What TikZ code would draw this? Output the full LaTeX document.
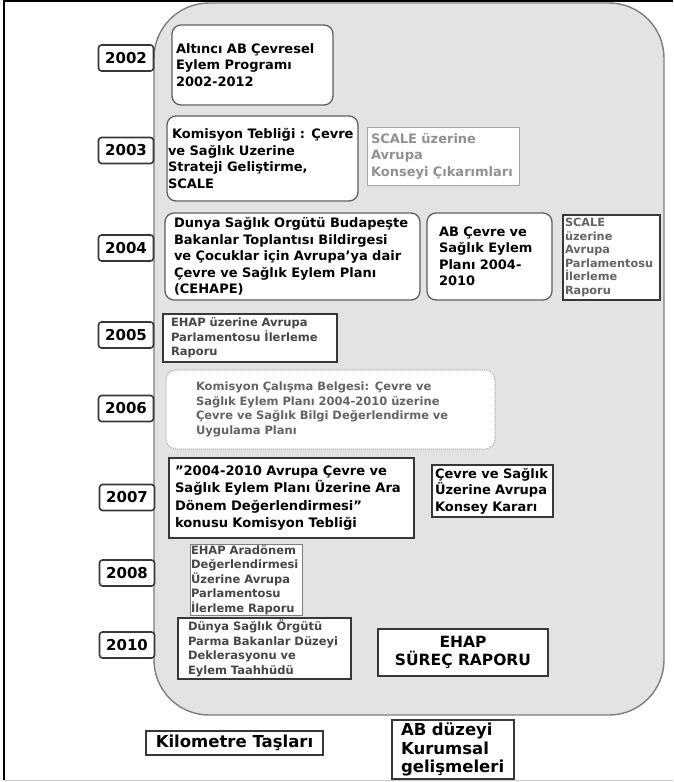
\documentclass[tikz,border=0pt]{standalone}
\usepackage{fontspec}
\setmainfont{DejaVu Sans}
\usepackage{xcolor}
\usepackage{tikz}
\usetikzlibrary{positioning}
\definecolor{panelfill}{RGB}{227, 227, 227}
\definecolor{panelline}{RGB}{125, 125, 125}
\definecolor{boxline}{RGB}{95, 95, 95}
\definecolor{rectline}{RGB}{55, 55, 55}
\definecolor{softline}{RGB}{165, 165, 165}
\definecolor{softtext}{RGB}{145, 145, 145}
\definecolor{midtext}{RGB}{100, 100, 100}
\definecolor{darktext}{RGB}{70, 70, 70}
\tikzstyle{panel} = [rectangle, rounded corners=55pt, draw=panelline, fill=panelfill, line width=1.4pt]
\tikzstyle{year} = [rectangle, rounded corners=3pt, draw=rectline, line width=1.6pt, fill=white, minimum width=55pt, minimum height=26pt, inner sep=0pt, font=\fontsize{15}{18}\selectfont\bfseries]
\tikzstyle{event} = [rectangle, rounded corners=9pt, draw=boxline, line width=1.3pt, fill=white, align=left, inner ysep=2pt, font=\fontsize{13}{16.5}\selectfont\bfseries]
\tikzstyle{report} = [rectangle, draw=rectline, line width=1.6pt, fill=white, align=left, inner ysep=2pt, font=\fontsize{13}{16.5}\selectfont\bfseries]
\tikzstyle{note} = [rectangle, draw=rectline, line width=1.4pt, fill=white, align=left, inner ysep=1pt, text=darktext, font=\fontsize{11.5}{14.5}\selectfont\bfseries]
\tikzstyle{legend} = [rectangle, draw=rectline, line width=1.6pt, fill=white, align=left, font=\fontsize{16.5}{18.5}\selectfont\bfseries]

\begin{document}
\begin{tikzpicture}[x=1pt, y=-1pt]
    \useasboundingbox (0, 0) rectangle (673, 782);
    % Frame
    \draw[black, line width=1.5pt] (673, 1) -- (4, 1) -- (4, 780);
    \draw[gray!40, line width=1pt] (4, 780) -- (673, 780);

    % Panel
    \node[panel, minimum width=510pt, minimum height=712pt] (panel) at (409, 359) {};

    % Years
    \node[year] (y2002) at (126, 58) {2002};
    \node[year] (y2003) at (126, 150.5) {2003};
    \node[year] (y2004) at (126, 248) {2004};
    \node[year] (y2005) at (126, 335) {2005};
    \node[year] (y2006) at (126, 408.5) {2006};
    \node[year] (y2007) at (127, 497.5) {2007};
    \node[year] (y2008) at (127, 573) {2008};
    \node[year] (y2010) at (127, 645) {2010};

    % Milestones and institutional steps
    \node[event, minimum width=161pt, minimum height=80pt, inner xsep=4pt, text width=153pt] (programme) at (252.5, 65) {Altıncı AB Çevresel\\Eylem Programı\\2002-2012\\[6pt]};
    \node[event, minimum width=191pt, minimum height=85pt, inner xsep=1pt, text width=189pt] (strategy) at (262.5, 158.5) {\hspace*{4pt}Komisyon Tebliği : Çevre\\ve Sağlık Uzerine\\Strateji Geliştirme,\\SCALE};
    \node[report, draw=softline, line width=1pt, text=softtext, minimum width=152pt, minimum height=58pt, inner xsep=4pt, text width=144pt] (council) at (443, 156) {SCALE üzerine\\Avrupa\\Konseyi Çıkarımları};
    \node[event, minimum width=255pt, minimum height=87pt, inner xsep=9pt, text width=237pt] (cehape) at (292.5, 256.5) {Dunya Sağlık Orgütü Budapeşte\\Bakanlar Toplantısı Bildirgesi\\ve Çocuklar için Avrupa'ya dair\\Çevre ve Sağlık Eylem Planı\\(CEHAPE)};
    \node[event, minimum width=125pt, minimum height=87pt, inner xsep=12pt, text width=101pt] (plan) at (489.5, 256.5) {AB Çevre ve\\Sağlık Eylem\\Planı 2004-\\2010};
    \node[note, text=midtext, minimum width=97pt, minimum height=85pt, inner xsep=2pt, text width=93pt, font=\fontsize{11.3}{13.6}\selectfont\bfseries] (scaleep) at (611.5, 257.5) {SCALE\\üzerine\\Avrupa\\Parlamentosu\\İlerleme\\Raporu};
    \node[note, minimum width=174pt, minimum height=48pt, inner xsep=8pt, text width=158pt] (ehapep) at (250, 338) {EHAP üzerine Avrupa\\Parlamentosu İlerleme\\Raporu};
    \node[note, rounded corners=10pt, draw=softline, line width=1pt, densely dotted, text=midtext, minimum width=329pt, minimum height=79pt, inner xsep=30pt, text width=269pt] (workdoc) at (330.5, 409.5) {Komisyon Çalışma Belgesi: Çevre ve\\Sağlık Eylem Planı 2004-2010 üzerine\\Çevre ve Sağlık Bilgi Değerlendirme ve\\Uygulama Planı};
    \node[report, minimum width=245pt, minimum height=80pt, inner xsep=6pt, text width=233pt, font=\fontsize{13.1}{17.5}\selectfont\bfseries] (midterm) at (291.5, 498) {\symbol{34}2004-2010 Avrupa Çevre ve\\Sağlık Eylem Planı Üzerine Ara\\Dönem Değerlendirmesi\symbol{34}\\konusu Komisyon Tebliği};
    \node[report, minimum width=121pt, minimum height=52pt, inner xsep=3pt, text width=115pt] (decision) at (492.5, 491) {Çevre ve Sağlık\\Üzerine Avrupa\\Konsey Kararı};
    \node[note, draw=panelline, line width=1pt, minimum width=112pt, minimum height=70pt, inner xsep=1pt, text width=110pt] (midtermep) at (246, 580) {EHAP Aradönem\\Değerlendirmesi\\Üzerine Avrupa\\Parlamentosu\\İlerleme Raporu};
    \node[note, minimum width=173pt, minimum height=61pt, inner xsep=10pt, text width=153pt] (parma) at (264.5, 648.5) {Dünya Sağlık Örgütü\\Parma Bakanlar Düzeyi\\Deklerasyonu ve\\Eylem Taahhüdü};
    \node[report, align=center, minimum width=170pt, minimum height=47pt, font=\fontsize{15.5}{17.5}\selectfont\bfseries] (process) at (463, 652.5) {EHAP\\SÜREÇ RAPORU};

    % Legend
    \node[legend, minimum width=177pt, minimum height=24pt, inner sep=0pt] (milestones) at (234.5, 743) {Kilometre Taşları};
    \node[legend, minimum width=122pt, minimum height=59pt, inner xsep=9pt, inner ysep=0pt, text width=104pt] (institutional) at (453, 749.5) {AB düzeyi\\Kurumsal\\gelişmeleri};
\end{tikzpicture}
\end{document}
